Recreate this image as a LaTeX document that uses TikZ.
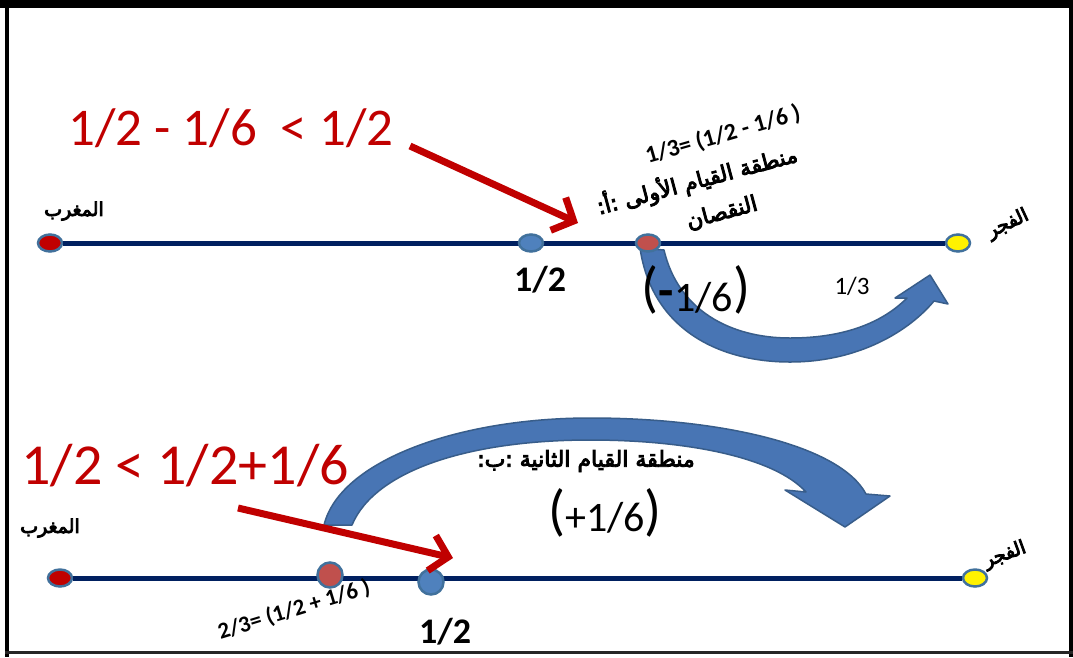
\documentclass[tikz,border=0pt]{standalone}
\usepackage{fontspec}
\setmainfont{Carlito}
\newfontfamily\arabicfont[Script=Arabic]{DejaVu Sans}
\TeXXeTstate=1
\usetikzlibrary{arrows.meta,shapes.geometric}
\definecolor{navy}{RGB}{0,32,96}
\definecolor{dotborder}{RGB}{65,113,156}
\definecolor{darkred}{RGB}{192,0,0}
\definecolor{redpt}{RGB}{192,80,77}
\definecolor{bluept}{RGB}{79,129,189}
\definecolor{arrowfill}{RGB}{72,117,180}
\definecolor{arrowedge}{RGB}{56,93,138}
\newcommand{\fs}[1]{\fontsize{#1}{#1}\selectfont}
\newcommand{\arb}[1]{\special{pdf:literal direct 0 0 0 RG 0.9 w 2 Tr}#1\special{pdf:literal direct 0 Tr}}
\tikzset{
  numline/.style={draw=navy, line width=5pt},
  dotnode/.style={ellipse, draw=dotborder, line width=2.5pt, inner sep=0pt, minimum width=24pt, minimum height=17pt},
  rounddot/.style={circle, draw=dotborder, line width=2.5pt, inner sep=0pt, minimum size=25pt},
  artext/.style={text=black, inner sep=0pt},
  redtext/.style={text=darkred, inner sep=0pt},
  redarrow/.style={draw=darkred, line width=7pt, -{Straight Barb[length=17pt,width=36pt]}},
  bluearrow/.style={fill=arrowfill, draw=arrowedge, line width=1.5pt, line join=round},
  boldnum/.style={font=\bfseries, inner sep=0pt}
}
\begin{document}
\begin{tikzpicture}[x=1pt,y=-1pt]
\useasboundingbox (0,0) rectangle (1073,657);
\fill[white] (0,0) rectangle (1073,657);
% frame
\fill[black] (0,0) rectangle (1073,8);
\fill[black] (5,0) rectangle (9,657);
\fill[black] (1069,0) rectangle (1073,657);
\fill[black!85] (5,651) rectangle (1073,654);

% ---------- top number line ----------
\node[dotnode, fill=darkred] (m1) at (50,243) {};
\node[dotnode, fill=yellow] (f1) at (958,243) {};
\draw[numline] (m1.east) -- (f1.west);
\node[dotnode, fill=bluept] (h1) at (531,243) {};

\node[artext, font=\arabicfont\fs{19}] (lm1) at (74,211) {\arb{\beginR المغرب\endR}};
\node[artext, font=\arabicfont\fs{19}, rotate=25] (lf1) at (1008,224) {\arb{\beginR الفجر\endR}};
\node[boldnum, font=\bfseries\fs{36}] (half1) at (540,280) {1/2};

\node[redtext, font=\fs{53}] (ineq1) at (231,128) {1/2 - 1/6 \ < 1/2};
\coordinate (a1s) at (410,146);
\coordinate (a1e) at (578,223);
\draw[redarrow] (a1s) -- (a1e);

\node[boldnum, font=\bfseries\fs{24}, rotate=16] (t1) at (723,135) {1/3= (1/2 - 1/6 )};
\node[artext, font=\arabicfont\fs{22}, rotate=15] (t2) at (697,180) {\arb{\beginR منطقة القيام الأولى :أ:\endR}};
\node[artext, font=\arabicfont\fs{22}, rotate=15] (t3) at (722,213) {\arb{\beginR النقصان\endR}};

% curved blue arrow (top)
\draw[bluearrow] (640,248) .. controls (652,330) and (720,362) .. (790,362)
  .. controls (860,362) and (910,330) .. (934,301)
  -- (948,304) -- (930,275) -- (895,298) -- (907,298)
  .. controls (880,325) and (840,338) .. (790,338)
  .. controls (730,338) and (678,310) .. (664,250) -- cycle;
\node[dotnode, fill=redpt] (q1) at (648,243) {};

\node[inner sep=0pt] (minus16) at (696,290) {\fs{56}(\raisebox{-1pt}{\fs{50}\bfseries -}\raisebox{-5pt}{\fs{42}1/6})};
\node[inner sep=0pt, font=\fs{25}] (third) at (852,286) {1/3};

% ---------- bottom number line ----------
\node[dotnode, fill=darkred] (m2) at (60,578) {};
\node[dotnode, fill=yellow] (f2) at (975,578) {};
\draw[numline] (m2.east) -- (f2.west);
\node[rounddot, fill=redpt] (q2) at (330,575) {};
\node[rounddot, fill=bluept] (h2) at (431,582) {};

\node[artext, font=\arabicfont\fs{19}] (lm2) at (50,528) {\arb{\beginR المغرب\endR}};
\node[artext, font=\arabicfont\fs{19}, rotate=20] (lf2) at (1005,555) {\arb{\beginR الفجر\endR}};
\node[boldnum, font=\bfseries\fs{36}] (half2) at (445,632) {1/2};
\node[boldnum, font=\bfseries\fs{23}, rotate=17] (t4) at (294,610) {2/3= (1/2 + 1/6 )};

% curved blue arrow (bottom)
\draw[bluearrow] (324,525) .. controls (340,460) and (460,418) .. (590,418)
  .. controls (720,418) and (840,445) .. (866,494)
  -- (890,496) -- (845,527) -- (785,490) -- (806,492)
  .. controls (775,458) and (690,440) .. (590,440)
  .. controls (470,440) and (375,470) .. (352,525) -- cycle;

\node[artext, font=\arabicfont\fs{22}] (t5) at (586,461) {\arb{\beginR منطقة القيام الثانية :ب:\endR}};
\node[inner sep=0pt] (plus16) at (605,513) {\fs{56}(\raisebox{-2pt}{\fs{42}+1/6})};

\node[redtext, font=\fs{58}] (ineq2) at (185,466) {1/2 < 1/2+1/6};
\coordinate (a2s) at (238,508);
\coordinate (a2e) at (453,558);
\draw[redarrow] (a2s) -- (a2e);
\end{tikzpicture}
\end{document}
